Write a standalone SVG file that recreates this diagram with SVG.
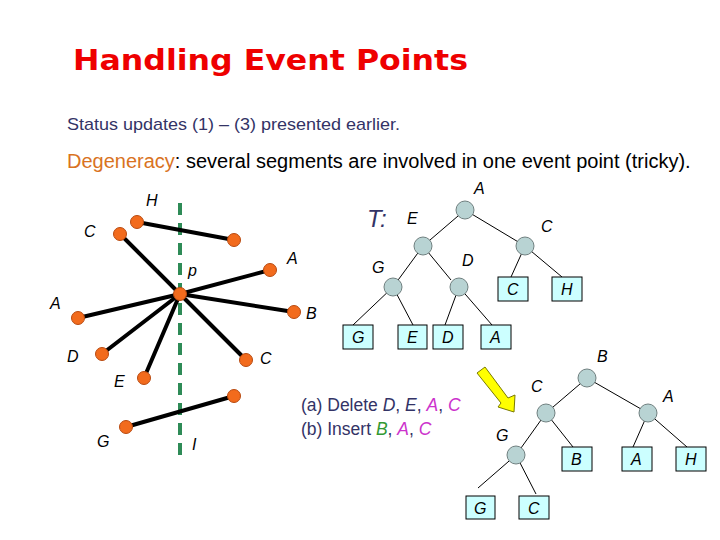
<svg xmlns="http://www.w3.org/2000/svg" width="720" height="540" viewBox="0 0 720 540">
<style>
.lbl{font-family:"Liberation Sans",Arial,sans-serif;font-style:italic;font-size:16px;fill:#000}
.seg{stroke:#000;stroke-width:4;stroke-linecap:round}
.pt{fill:#F26B1D;stroke:#B84A10;stroke-width:1}
.edge{stroke:#000;stroke-width:1;fill:none}
.tn{fill:#B8D3D3;stroke:#708080;stroke-width:1}
.leaf{fill:#CCFFFF;stroke:#000;stroke-width:1}
.navy{fill:#333366}
</style>
<rect width="720" height="540" fill="#fff"/>
<text x="73" y="70" font-family="'DejaVu Sans',Verdana,sans-serif" font-weight="bold" font-size="29" fill="#EE0000" textLength="395" lengthAdjust="spacingAndGlyphs">Handling Event Points</text>
<text x="67" y="130" font-family="'Liberation Sans',Arial,sans-serif" font-size="17" class="navy" textLength="333" lengthAdjust="spacingAndGlyphs">Status updates (1) – (3) presented earlier.</text>
<text x="67" y="168" font-family="'Liberation Sans',Arial,sans-serif" font-size="20" fill="#000"><tspan fill="#D9731F">Degeneracy</tspan>: several segments are involved in one event point (tricky).</text>

<g id="sweep-line">
<line x1="180" y1="203" x2="180" y2="456" stroke="#2E8B57" stroke-width="4" stroke-dasharray="12,8"/>
</g>
<g id="segments">
<line class="seg" x1="137" y1="222" x2="234" y2="240"/>
<line class="seg" x1="120" y1="234" x2="180" y2="294"/>
<line class="seg" x1="270" y1="270" x2="180" y2="294"/>
<line class="seg" x1="78" y1="318" x2="180" y2="294"/>
<line class="seg" x1="294" y1="312" x2="180" y2="294"/>
<line class="seg" x1="102" y1="354" x2="180" y2="294"/>
<line class="seg" x1="246" y1="360" x2="180" y2="294"/>
<line class="seg" x1="144" y1="378" x2="180" y2="294"/>
<line class="seg" x1="126" y1="427" x2="234" y2="396"/>
</g>
<g id="points">
<circle class="pt" cx="137" cy="222" r="6.5"/>
<circle class="pt" cx="234" cy="240" r="6.5"/>
<circle class="pt" cx="120" cy="234" r="6.5"/>
<circle class="pt" cx="270" cy="270" r="6.5"/>
<circle class="pt" cx="78" cy="318" r="6.5"/>
<circle class="pt" cx="294" cy="312" r="6.5"/>
<circle class="pt" cx="102" cy="354" r="6.5"/>
<circle class="pt" cx="246" cy="360" r="6.5"/>
<circle class="pt" cx="144" cy="378" r="6.5"/>
<circle class="pt" cx="126" cy="427" r="6.5"/>
<circle class="pt" cx="234" cy="396" r="6.5"/>
<circle class="pt" cx="180" cy="294" r="6.5"/>
</g>
<g id="seg-labels">
<text class="lbl" x="146" y="206">H</text>
<text class="lbl" x="84" y="237">C</text>
<text class="lbl" x="188" y="276">p</text>
<text class="lbl" x="287" y="264">A</text>
<text class="lbl" x="50" y="309">A</text>
<text class="lbl" x="306" y="319">B</text>
<text class="lbl" x="67" y="362">D</text>
<text class="lbl" x="260" y="364">C</text>
<text class="lbl" x="114" y="387">E</text>
<text class="lbl" x="97" y="447">G</text>
<text class="lbl" x="192" y="450">I</text>
</g>

<text x="367" y="227" font-family="'Liberation Sans',Arial,sans-serif" font-style="italic" font-size="24" class="navy">T:</text>

<g id="tree1-edges">
<line class="edge" x1="465" y1="210" x2="423" y2="246"/>
<line class="edge" x1="465" y1="210" x2="525" y2="246"/>
<line class="edge" x1="423" y1="246" x2="393" y2="287"/>
<line class="edge" x1="423" y1="246" x2="451" y2="280"/>
<line class="edge" x1="393" y1="287" x2="353" y2="325"/>
<line class="edge" x1="393" y1="287" x2="413" y2="325"/>
<line class="edge" x1="459" y1="287" x2="445" y2="325"/>
<line class="edge" x1="459" y1="287" x2="492" y2="325"/>
<line class="edge" x1="525" y1="246" x2="511" y2="277"/>
<line class="edge" x1="525" y1="246" x2="562" y2="277"/>
</g>
<g id="tree1-nodes">
<circle class="tn" cx="465" cy="210" r="9"/>
<circle class="tn" cx="423" cy="246" r="9"/>
<circle class="tn" cx="525" cy="246" r="9"/>
<circle class="tn" cx="393" cy="287" r="9"/>
<circle class="tn" cx="459" cy="287" r="9"/>
<rect class="leaf" x="498" y="277" width="30" height="24"/>
<rect class="leaf" x="552" y="277" width="30" height="24"/>
<rect class="leaf" x="343" y="325" width="30" height="24"/>
<rect class="leaf" x="398" y="325" width="29" height="24"/>
<rect class="leaf" x="433" y="325" width="30" height="24"/>
<rect class="leaf" x="481" y="325" width="30" height="24"/>
<text class="lbl" x="474" y="194">A</text>
<text class="lbl" x="407" y="224">E</text>
<text class="lbl" x="541" y="232">C</text>
<text class="lbl" x="372" y="273">G</text>
<text class="lbl" x="462" y="266">D</text>
<text class="lbl" x="507" y="295">C</text>
<text class="lbl" x="561" y="295">H</text>
<text class="lbl" x="352" y="343">G</text>
<text class="lbl" x="407" y="343">E</text>
<text class="lbl" x="442" y="343">D</text>
<text class="lbl" x="490" y="343">A</text>
</g>

<g id="arrow">
<polygon points="477,373 485,367 508,398 515,395 514,412 498,407 501,403" fill="#FFFF00" stroke="#7A7A00" stroke-width="1"/>
</g>

<g id="ops-text">
<text x="301" y="411" font-family="'Liberation Sans',Arial,sans-serif" font-size="17.5" class="navy">(a) Delete <tspan font-style="italic">D</tspan>, <tspan font-style="italic">E</tspan>, <tspan font-style="italic" fill="#CC33CC">A</tspan>, <tspan font-style="italic" fill="#CC33CC">C</tspan></text>
<text x="301" y="435" font-family="'Liberation Sans',Arial,sans-serif" font-size="17.5" class="navy">(b) Insert <tspan font-style="italic" fill="#339933">B</tspan>, <tspan font-style="italic" fill="#CC33CC">A</tspan>, <tspan font-style="italic" fill="#CC33CC">C</tspan></text>
</g>

<g id="tree2-edges">
<line class="edge" x1="587" y1="378" x2="546" y2="413"/>
<line class="edge" x1="587" y1="378" x2="648" y2="413"/>
<line class="edge" x1="546" y1="413" x2="516" y2="455"/>
<line class="edge" x1="546" y1="413" x2="573" y2="447"/>
<line class="edge" x1="648" y1="413" x2="633" y2="447"/>
<line class="edge" x1="648" y1="413" x2="687" y2="447"/>
<line class="edge" x1="516" y1="455" x2="478" y2="488"/>
<line class="edge" x1="516" y1="455" x2="536" y2="494"/>
</g>
<g id="tree2-nodes">
<circle class="tn" cx="587" cy="378" r="9"/>
<circle class="tn" cx="546" cy="413" r="9"/>
<circle class="tn" cx="648" cy="413" r="9"/>
<circle class="tn" cx="516" cy="455" r="9"/>
<rect class="leaf" x="562" y="447" width="30" height="24"/>
<rect class="leaf" x="622" y="447" width="30" height="24"/>
<rect class="leaf" x="676" y="447" width="30" height="24"/>
<rect class="leaf" x="466" y="496" width="29" height="23"/>
<rect class="leaf" x="519" y="496" width="30" height="23"/>
<text class="lbl" x="597" y="362">B</text>
<text class="lbl" x="531" y="392">C</text>
<text class="lbl" x="663" y="402">A</text>
<text class="lbl" x="496" y="441">G</text>
<text class="lbl" x="571" y="465">B</text>
<text class="lbl" x="631" y="465">A</text>
<text class="lbl" x="685" y="465">H</text>
<text class="lbl" x="474" y="514">G</text>
<text class="lbl" x="528" y="514">C</text>
</g>
</svg>
